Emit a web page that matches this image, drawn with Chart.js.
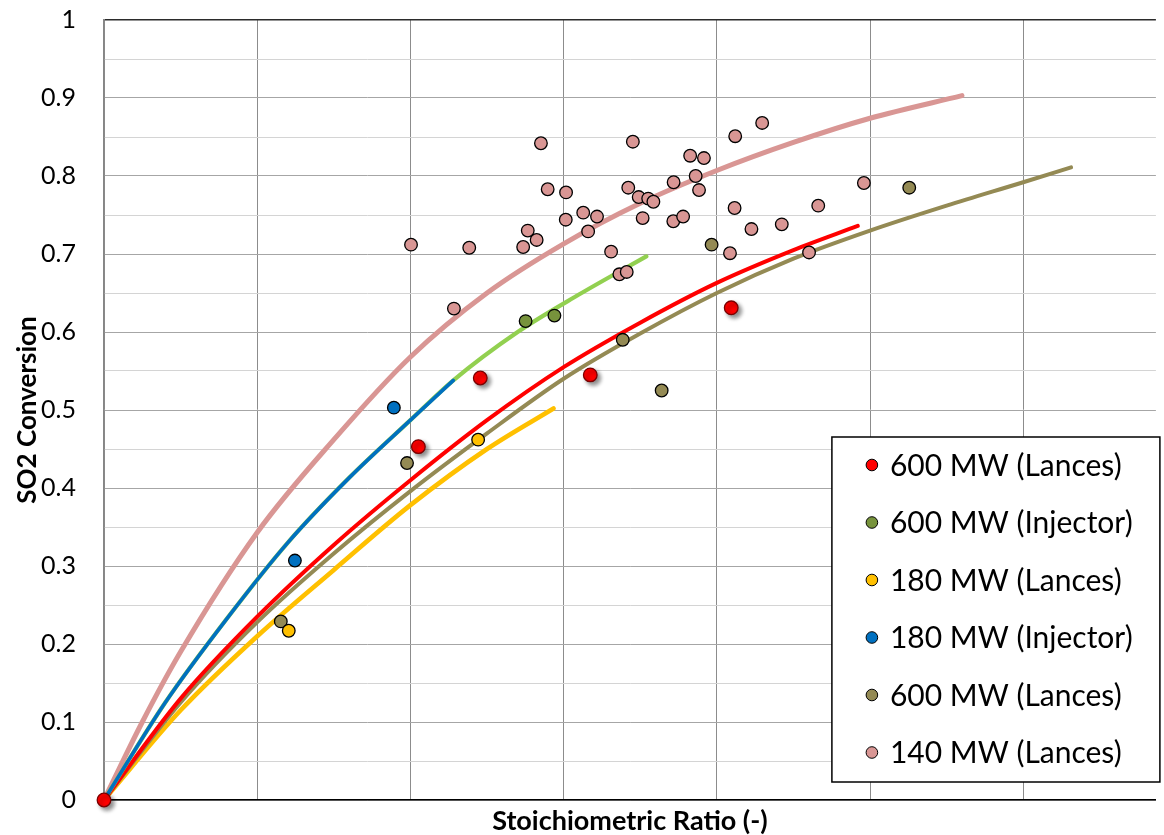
<!DOCTYPE html>
<html>
<head>
<meta charset="utf-8">
<title>SO2 Conversion vs Stoichiometric Ratio</title>
<script src="https://cdn.jsdelivr.net/npm/chart.js@4.4.1/dist/chart.umd.min.js"></script>
<style>
  html, body { margin: 0; padding: 0; background: #fff; }
  #wrap { width: 1164px; height: 835px; }
</style>
</head>
<body>
<div id="wrap"><canvas id="chart" width="1164" height="835"></canvas></div>
<script>
// axis grid / labels
const X_GRID = [0, 0.5, 1, 1.5, 2, 2.5, 3];
const Y_TICKS = [0, 0.05, 0.1, 0.15, 0.2, 0.25, 0.3, 0.35, 0.4, 0.45, 0.5, 0.55, 0.6, 0.65, 0.7, 0.75, 0.8, 0.85, 0.9, 0.95, 1];
const Y_LABELS = { 0: '0', 0.1: '0.1', 0.2: '0.2', 0.3: '0.3', 0.4: '0.4', 0.5: '0.5', 0.6: '0.6', 0.7: '0.7', 0.8: '0.8', 0.9: '0.9', 1: '1' };

// measured points
const MW600_LANCES_X = [0, 1.026, 1.228, 1.587, 2.047];
const MW600_LANCES_Y = [0, 0.453, 0.541, 0.545, 0.631];
const MW600_INJ_X = [1.376, 1.470];
const MW600_INJ_Y = [0.614, 0.621];
const MW180_LANCES_X = [0.603, 1.221];
const MW180_LANCES_Y = [0.217, 0.462];
const MW180_INJ_X = [0.623, 0.946];
const MW180_INJ_Y = [0.307, 0.503];
const MW600_LANCES_B_X = [0.577, 0.989, 1.693, 1.820, 1.983, 2.628];
const MW600_LANCES_B_Y = [0.229, 0.432, 0.590, 0.525, 0.712, 0.785];
const MW140_LANCES_X = [1.002, 1.426, 1.192, 1.142, 1.448, 1.508, 1.383, 1.412, 1.368, 1.507,
  1.564, 1.609, 1.580, 1.655, 1.682, 1.706, 1.726, 1.711, 1.745, 1.776,
  1.793, 1.758, 1.859, 1.858, 1.890, 1.913, 1.958, 1.931, 1.942, 2.060,
  2.148, 2.058, 2.113, 2.043, 2.212, 2.331, 2.301, 2.480];
const MW140_LANCES_Y = [0.712, 0.842, 0.708, 0.630, 0.783, 0.779, 0.730, 0.718, 0.709, 0.744,
  0.753, 0.748, 0.729, 0.703, 0.674, 0.677, 0.844, 0.785, 0.773, 0.771,
  0.767, 0.746, 0.792, 0.742, 0.748, 0.826, 0.823, 0.800, 0.782, 0.851,
  0.868, 0.759, 0.732, 0.701, 0.738, 0.762, 0.702, 0.791];

// model curves
const CURVE_BLUE_X = [0, 0.2, 0.4, 0.6, 0.8, 1.0, 1.14];
const CURVE_BLUE_Y = [0, 0.125, 0.232, 0.33, 0.413, 0.487, 0.538];
const CURVE_GREEN_X = [0, 0.2, 0.4, 0.6, 0.8, 1.0, 1.14, 1.35, 1.55, 1.77];
const CURVE_GREEN_Y = [0, 0.125, 0.232, 0.33, 0.413, 0.487, 0.538, 0.6, 0.648, 0.697];
const CURVE_RED_X = [0, 0.25, 0.5, 0.75, 1.0, 1.25, 1.5, 1.75, 2.0, 2.25, 2.46];
const CURVE_RED_Y = [0, 0.13, 0.235, 0.327, 0.41, 0.487, 0.555, 0.612, 0.663, 0.705, 0.736];
const CURVE_KHAKI_X = [0, 0.25, 0.5, 0.75, 1.0, 1.25, 1.5, 1.75, 2.0, 2.25, 2.5, 2.75, 3.0, 3.156];
const CURVE_KHAKI_Y = [0, 0.125, 0.228, 0.316, 0.396, 0.47, 0.54, 0.598, 0.65, 0.694, 0.73, 0.762, 0.792, 0.811];
const CURVE_YELLOW_X = [0, 0.25, 0.5, 0.75, 1.0, 1.25, 1.467];
const CURVE_YELLOW_Y = [0, 0.115, 0.21, 0.295, 0.378, 0.45, 0.502];
const CURVE_PINK_X = [0, 0.125, 0.25, 0.5, 0.75, 1.0, 1.25, 1.5, 1.75, 2.0, 2.25, 2.5, 2.8];
const CURVE_PINK_Y = [0, 0.1, 0.19, 0.343, 0.462, 0.568, 0.65, 0.713, 0.765, 0.807, 0.843, 0.874, 0.903];

const FONT = 'Lato, "Open Sans", sans-serif';

const pts = (xs, ys) => xs.map((x, i) => ({ x, y: ys[i] }));

function markers(label, xs, ys, fill, extra) {
    return Object.assign({
        label, inLegend: true, clip: false,
        data: pts(xs, ys),
        backgroundColor: fill, borderColor: '#000', borderWidth: 1.3,
        pointRadius: 6.3, pointHoverRadius: 6.3,
    }, extra || {});
}

function curve(xs, ys, color, width) {
    return {
        label: '', data: pts(xs, ys), showLine: true,
        borderColor: color, borderWidth: width, borderCapStyle: 'round',
        pointRadius: 0, pointHoverRadius: 0,
        cubicInterpolationMode: 'monotone', fill: false,
    };
}

// red markers carry a soft drop shadow in the original
const markerShadow = {
    id: 'markerShadow',
    beforeDatasetDraw(chart, args) {
        if (!chart.data.datasets[args.index].shadow) return;
        const ctx = chart.ctx;
        ctx.save();
        ctx.shadowColor = 'rgba(0,0,0,0.45)';
        ctx.shadowBlur = 4;
        ctx.shadowOffsetX = 3;
        ctx.shadowOffsetY = 3;
    },
    afterDatasetDraw(chart, args) {
        if (chart.data.datasets[args.index].shadow) chart.ctx.restore();
    }
};

// boxed legend sitting in the lower-right corner of the plot
const insideLegend = {
    id: 'insideLegend',
    afterDraw(chart, args, o) {
        const { ctx, chartArea } = chart;
        const items = chart.data.datasets.filter(d => d.inLegend);
        const x = chartArea.right - o.offsetRight - o.width;
        const y = chartArea.bottom - o.offsetBottom - o.height;
        ctx.save();
        ctx.fillStyle = '#fff';
        ctx.fillRect(x, y, o.width, o.height);
        ctx.strokeStyle = '#000';
        ctx.lineWidth = 1.5;
        ctx.strokeRect(x, y, o.width, o.height);
        ctx.font = o.font;
        ctx.textBaseline = 'middle';
        items.forEach((d, i) => {
            const cy = y + o.firstRow + i * o.rowHeight;
            ctx.beginPath();
            ctx.arc(x + o.markerX, cy, 5.8, 0, Math.PI * 2);
            ctx.fillStyle = d.backgroundColor;
            ctx.fill();
            ctx.lineWidth = 1;
            ctx.strokeStyle = '#000';
            ctx.stroke();
            ctx.fillStyle = '#000';
            ctx.fillText(d.label, x + o.textX, cy + 1);
        });
        ctx.restore();
    }
};

const isMajor = v => Math.round(v * 100) % 10 === 0;

// pin the plot area to the same box as the original
const noEdgePadding = s => { s.paddingTop = 0; s.paddingBottom = 0; s.paddingLeft = 0; s.paddingRight = 0; };

new Chart(document.getElementById('chart'), {
    type: 'scatter',
    data: {
        datasets: [
            markers('600 MW (Lances)', MW600_LANCES_X, MW600_LANCES_Y, '#ff0000', { borderColor: '#7a0000', shadow: true, pointRadius: 6.8 }),
            markers('600 MW (Injector)', MW600_INJ_X, MW600_INJ_Y, '#77933c'),
            markers('180 MW (Lances)', MW180_LANCES_X, MW180_LANCES_Y, '#ffc000'),
            markers('180 MW (Injector)', MW180_INJ_X, MW180_INJ_Y, '#0070c0'),
            markers('600 MW (Lances)', MW600_LANCES_B_X, MW600_LANCES_B_Y, '#948a54'),
            markers('140 MW (Lances)', MW140_LANCES_X, MW140_LANCES_Y, '#d99694'),
            curve(CURVE_BLUE_X, CURVE_BLUE_Y, '#0070c0', 3.6),
            curve(CURVE_GREEN_X, CURVE_GREEN_Y, '#92d050', 4.2),
            curve(CURVE_RED_X, CURVE_RED_Y, '#ff0000', 4),
            curve(CURVE_KHAKI_X, CURVE_KHAKI_Y, '#948a54', 4),
            curve(CURVE_YELLOW_X, CURVE_YELLOW_Y, '#ffc000', 4.6),
            curve(CURVE_PINK_X, CURVE_PINK_Y, '#d99694', 5),
        ],
    },
    options: {
        responsive: false,
        animation: false,
        events: [],
        layout: { padding: { top: 20, right: 0, bottom: 0, left: 0 } },
        plugins: {
            legend: { display: false },
            tooltip: { enabled: false },
            insideLegend: {
                width: 328, height: 345, offsetRight: -4, offsetBottom: 18,
                firstRow: 28, rowHeight: 57.5, markerX: 40, textX: 58,
                font: '30px ' + FONT,
            },
        },
        scales: {
            x: {
                type: 'linear', min: 0, max: 3.433,
                afterBuildTicks: s => { s.ticks = X_GRID.map(v => ({ value: v })); },
                afterFit: s => { s.height = 35; noEdgePadding(s); },
                ticks: { display: false },
                grid: { color: '#8c8c8c', lineWidth: 1, drawTicks: false },
                border: { display: true, color: '#000', width: 1.5 },
                title: {
                    display: true, text: 'Stoichiometric Ratio (-)', color: '#000',
                    font: { family: FONT, size: 27, weight: 'bold', lineHeight: 1 }, padding: { top: 0, bottom: 0 },
                },
            },
            y: {
                type: 'linear', min: 0, max: 1,
                afterBuildTicks: s => { s.ticks = Y_TICKS.map(v => ({ value: v })); },
                afterFit: s => { s.width = 104; noEdgePadding(s); },
                ticks: {
                    color: '#000', padding: 28,
                    font: { family: FONT, size: 25 },
                    callback: v => Y_LABELS[v] !== undefined ? Y_LABELS[v] : '',
                },
                grid: {
                    drawTicks: false,
                    color: c => c.tick.value === 1 ? '#2b2b2b' : (isMajor(c.tick.value) ? '#a6a6a6' : '#d4d4d4'),
                    lineWidth: c => c.tick.value === 1 ? 1.5 : 1,
                },
                border: { display: true, color: '#868686', width: 1.5 },
                title: {
                    display: true, text: 'SO2 Conversion', color: '#000',
                    font: { family: FONT, size: 26, weight: 'bold', lineHeight: 1 }, padding: { top: 15, bottom: 0 },
                },
            },
        },
    },
    plugins: [markerShadow, insideLegend],
});
</script>
</body>
</html>
